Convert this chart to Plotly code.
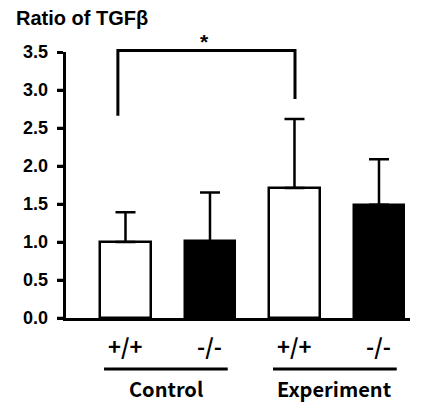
import plotly.graph_objects as go

# ---- data ----
categories = ["+/+ (Control)", "-/- (Control)", "+/+ (Experiment)", "-/- (Experiment)"]
tick_labels = ["+/+", "-/-", "+/+", "-/-"]
values = [1.00, 1.01, 1.71, 1.49]
errors = [0.39, 0.64, 0.91, 0.60]
fill_colors = ["white", "black", "white", "black"]
groups = ["Control", "Experiment"]
group_members = [[0, 1], [2, 3]]
y_ticks = [0.0, 0.5, 1.0, 1.5, 2.0, 2.5, 3.0, 3.5]
sig_pair = [0, 2]
sig_legs = [2.66, 2.88]
sig_top = 3.52
sig_label = "*"

xpos = list(range(len(categories)))
AR = "Arial, Liberation Sans, sans-serif"
KF = "Noto Sans CJK KR, Open Sans, sans-serif"
YMAX = y_ticks[-1]

# page body has an 8px margin; figure sized to fit the 435x408 window
W, H = 427, 400
L, R, T, B = 58, 25, 44, 90
PW, PH = W - L - R, H - T - B

fig = go.Figure()
fig.add_trace(go.Bar(
    x=xpos, y=values, width=0.6,
    marker=dict(color=fill_colors, line=dict(color="black", width=2.5)),
    error_y=dict(type="data", array=errors, arrayminus=[0]*len(errors),
                 symmetric=False, color="black", thickness=2.5, width=10),
    showlegend=False,
))

shapes = []
# y axis line drawn as a filled black strip
shapes.append(dict(type="rect", xref="paper", yref="paper", x0=-3 / PW, x1=0,
                   y0=-1.5 / PH, y1=1, fillcolor="black", line=dict(width=0), layer="above"))
# y ticks drawn as strips too
for t in y_ticks:
    shapes.append(dict(type="rect", xref="paper", yref="y", x0=-9 / PW, x1=-2 / PW,
                       y0=t, y1=t, line=dict(color="black", width=2.5), layer="above"))
# significance bracket (y in paper units so it may sit above the axis top)
xl = sig_pair[0] - 0.09
xr = sig_pair[1] + 0.006
pl, pt, pr = sig_legs[0] / YMAX, sig_top / YMAX, sig_legs[1] / YMAX
shapes.append(dict(type="path", xref="x", yref="paper",
                   path=f"M {xl},{pl} L {xl},{pt} L {xr},{pt} L {xr},{pr}",
                   line=dict(color="black", width=3)))
annotations = [dict(x=(xl + xr) / 2 - 0.02, y=pt, xref="x", yref="paper", text=sig_label,
                    showarrow=False, yanchor="bottom", yshift=-5,
                    font=dict(family=AR, size=21, color="black", weight="bold"))]
# y tick labels
for t in y_ticks:
    annotations.append(dict(x=-16 / PW, y=t, xref="paper", yref="y", text=f"{t:.1f}",
                            showarrow=False, xanchor="right", yanchor="middle",
                            font=dict(family=AR, size=18, color="black", weight="bold")))
# x category labels
for xp, lab in zip(xpos, tick_labels):
    annotations.append(dict(x=xp, y=-(345 - 318) / PH, xref="x", yref="paper", text=lab,
                            showarrow=False, yanchor="middle",
                            font=dict(family=KF, size=22, color="black", weight="bold")))
# group underlines and labels
for g, mem in zip(groups, group_members):
    a = mem[0] - 0.254
    b = mem[-1] + 0.21
    shapes.append(dict(type="line", xref="x", yref="paper", x0=a, x1=b,
                       y0=-(369 - 318) / PH, y1=-(369 - 318) / PH,
                       line=dict(color="black", width=3)))
    annotations.append(dict(x=(a + b) / 2, y=-(388 - 318) / PH, xref="x", yref="paper", text=g,
                            showarrow=False, yanchor="middle",
                            font=dict(family=KF, size=20, color="black", weight="bold")))
# title
annotations.append(dict(xref="paper", yref="paper", x=(14 - 8 - L) / PW,
                        y=1 + (T - (18 - 8)) / PH, text="Ratio of TGFβ",
                        showarrow=False, xanchor="left", yanchor="middle",
                        font=dict(family=AR, size=20, color="black", weight="bold")))

fig.update_layout(
    width=W, height=H,
    margin=dict(l=L, r=R, t=T, b=B, autoexpand=False),
    paper_bgcolor="white", plot_bgcolor="white",
    bargap=0,
    xaxis=dict(range=[-0.704, 3.367], tickvals=xpos, showticklabels=False,
               showline=True, linecolor="black", linewidth=3, ticks="", showgrid=False,
               zeroline=False),
    yaxis=dict(range=[0, YMAX], tickvals=y_ticks, showticklabels=False,
               showline=True, linecolor="black", linewidth=3,
               ticks="outside", ticklen=6, tickwidth=2.5, tickcolor="black",
               showgrid=False, zeroline=False),
    shapes=shapes, annotations=annotations,
)
fig.write_html("out.html")
